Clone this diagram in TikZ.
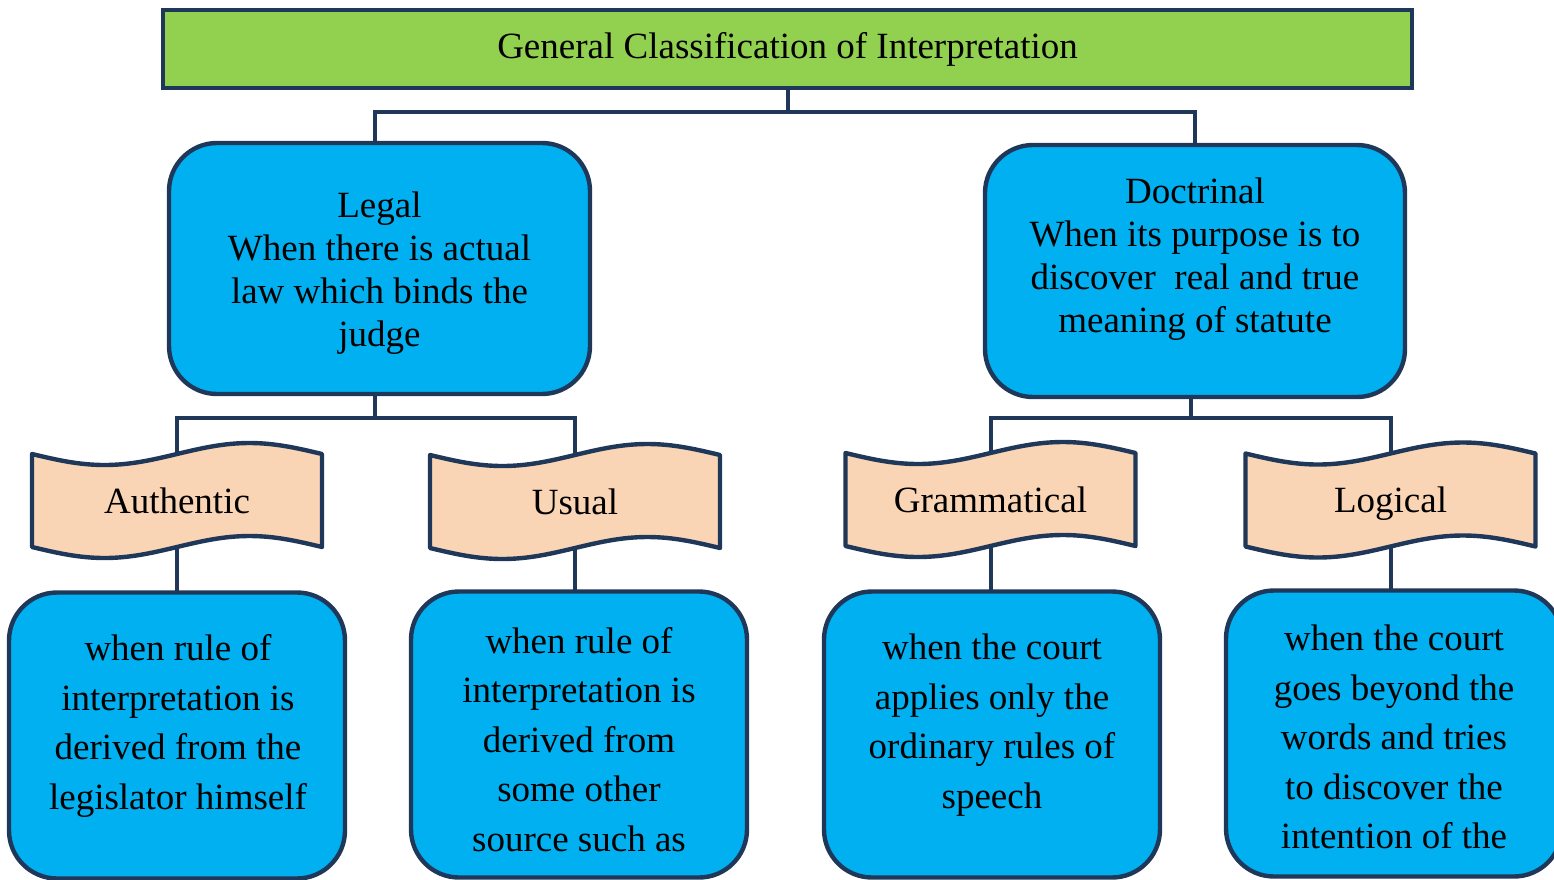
\documentclass[tikz,border=0pt]{standalone}
\usepackage{fontspec}
\setmainfont{Liberation Serif}
\definecolor{navy}{RGB}{31,56,90}
\definecolor{lblue}{RGB}{0,176,240}
\definecolor{lgreen}{RGB}{146,208,80}
\definecolor{peach}{RGB}{250,213,181}
\pgfdeclarelayer{bg}
\pgfsetlayers{bg,main}
\newcommand\wavebanner[1]{%
  \begin{pgfonlayer}{bg}
  \path[bannerwave] (#1.north west) sin ++(72.5,11) cos ++(72.5,-11) sin ++(72.5,-11) cos ++(72.5,11)
     -- (#1.south east) sin ++(-72.5,-11) cos ++(-72.5,11) sin ++(-72.5,11) cos ++(-72.5,-11) -- cycle;
  \end{pgfonlayer}}
\begin{document}
\begin{tikzpicture}[x=0.5pt,y=-0.5pt,
  every node/.style={font=\fontsize{18.5}{21.5}\selectfont, inner sep=0pt, outer sep=0pt},
  titlebox/.style={draw=navy, line width=2.2pt, fill=lgreen, minimum width=624.5pt, minimum height=39pt},
  bigbox/.style={draw=navy, line width=2.2pt, fill=lblue, rounded corners=24pt},
  lowbox/.style={bigbox, minimum width=168pt, minimum height=143pt},
  bannerbox/.style={minimum width=145pt, minimum height=46.5pt, text depth=0pt},
  bannerwave/.style={draw=navy, line width=2.2pt, fill=peach, line join=round},
  boxtext/.style={align=center},
  lowtext/.style={align=center, font=\fontsize{18.5}{24.75}\selectfont},
  conn/.style={draw=navy, line width=2pt}
]
\clip (0,0) rectangle (1554,879);

\coordinate (bus1) at (0,112);
\coordinate (bus2) at (0,418);

% title
\node[titlebox] (title) at (787.5,49) {General Classification of Interpretation};

% second level
\node[bigbox, minimum width=210.5pt, minimum height=125.5pt] (legal) at (379.5,268.5) {};
\node[boxtext] (legalT) at (379.5,273) {Legal\\When there is actual\\law which binds the\\judge};
\node[bigbox, minimum width=210pt, minimum height=126pt] (doct) at (1195,271) {};
\node[boxtext] (doctT) at (1195,259.5) {Doctrinal\\When its purpose is to\\discover~ real and true\\meaning of statute};

% banners
\node[bannerbox] (auth) at (177,500.5) {Authentic};
\wavebanner{auth}
\node[bannerbox] (usual) at (575,501.5) {Usual};
\wavebanner{usual}
\node[bannerbox] (gram) at (990.5,499.5) {Grammatical};
\wavebanner{gram}
\node[bannerbox] (logi) at (1390.5,500) {Logical};
\wavebanner{logi}

% bottom boxes
\node[lowbox] (b1) at (177,735.5) {};
\node[lowtext] (b1T) at (178,726) {when rule of\\interpretation is\\derived from the\\legislator himself};
\node[lowbox] (b2) at (579,734.5) {};
\node[lowtext] (b2T) at (579,739.5) {when rule of\\interpretation is\\derived from\\some other\\source such as};
\node[lowbox] (b3) at (992,734.5) {};
\node[lowtext] (b3T) at (992,725) {when the court\\applies only the\\ordinary rules of\\speech};
\node[lowbox] (b4) at (1394,733.5) {};
\node[lowtext] (b4T) at (1394,737) {when the court\\goes beyond the\\words and tries\\to discover the\\intention of the};

% connectors
\draw[conn] (title.south) -- (title.south |- bus1);
\draw[conn] ([xshift=-2.25pt]legal.north) |- (doct.north |- bus1) -- (doct.north);
\draw[conn] ([xshift=-2.25pt]legal.south) -- ([xshift=-2.25pt]legal.south |- bus2);
\draw[conn] (auth.north) |- (usual.north |- bus2) -- (usual.north);
\draw[conn] ([xshift=-2pt]doct.south) -- ([xshift=-2pt]doct.south |- bus2);
\draw[conn] (gram.north) |- (logi.north |- bus2) -- (logi.north);
\draw[conn] (auth.south) -- (auth.south |- b1.north);
\draw[conn] (usual.south) -- (usual.south |- b2.north);
\draw[conn] (gram.south) -- (gram.south |- b3.north);
\draw[conn] (logi.south) -- (logi.south |- b4.north);
\end{tikzpicture}
\end{document}
